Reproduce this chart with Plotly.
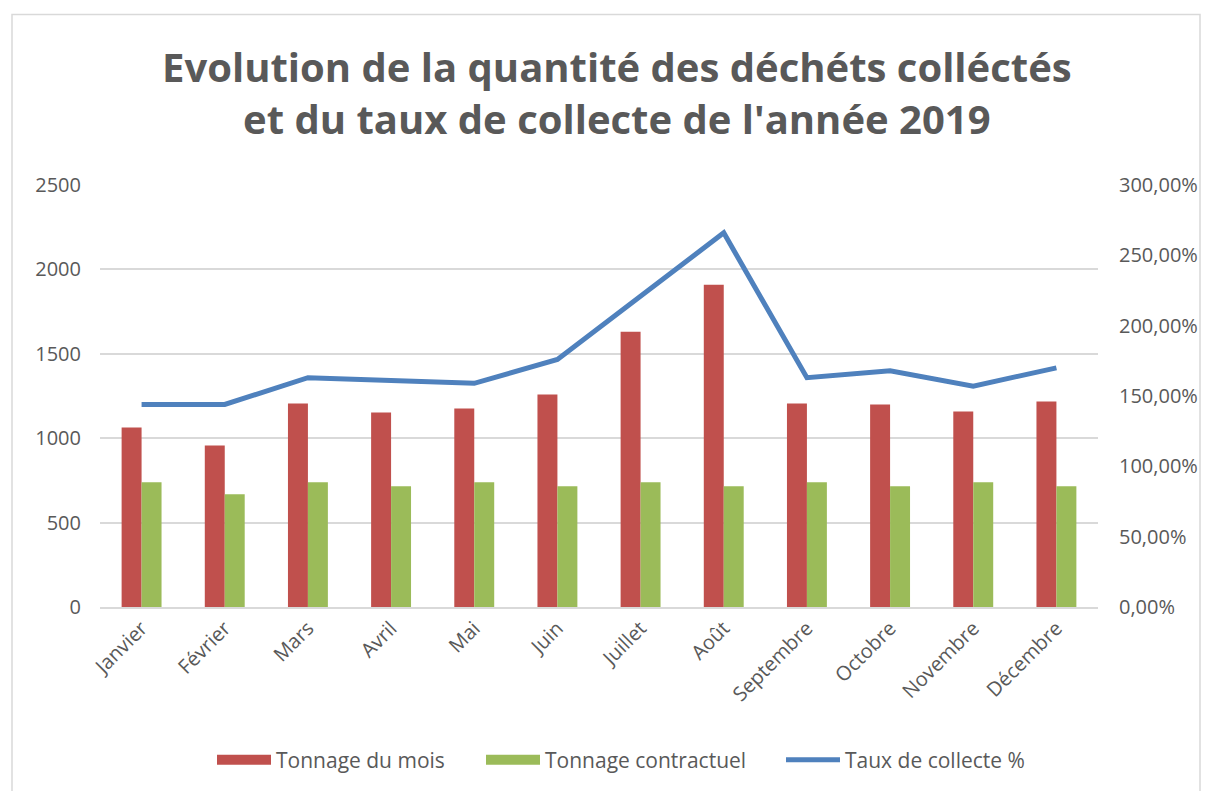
import plotly.graph_objects as go

mois = ["Janvier", "Février", "Mars", "Avril", "Mai", "Juin", "Juillet", "Août",
        "Septembre", "Octobre", "Novembre", "Décembre"]
tonnage_mois = [1064, 957, 1206, 1152, 1176, 1259, 1631, 1909, 1206, 1200, 1158, 1217]
tonnage_contractuel = [739, 668, 739, 715, 739, 715, 739, 715, 739, 715, 739, 715]
taux_collecte = [1.44, 1.44, 1.63, 1.61, 1.59, 1.76, 2.21, 2.66, 1.63, 1.68, 1.57, 1.70]
left_ticks = [0, 500, 1000, 1500, 2000, 2500]
right_ticks = [0, 0.5, 1.0, 1.5, 2.0, 2.5, 3.0]
title_text = "Evolution de la quantité des déchéts colléctés<br>et du taux de collecte de l'année 2019"

GRAY = "#595959"
RED, GREEN, BLUE = "#C0504D", "#9BBB59", "#4F81BD"
FONT = "Open Sans"
OFF = 8  # page body margin

fig = go.Figure()
fig.add_trace(go.Bar(x=mois, y=tonnage_mois, name="Tonnage du mois",
                     marker=dict(color=RED, line=dict(width=0)), showlegend=False))
fig.add_trace(go.Bar(x=mois, y=tonnage_contractuel, name="Tonnage contractuel",
                     marker=dict(color=GREEN, line=dict(width=0)), showlegend=False))
fig.add_trace(go.Scatter(x=mois, y=taux_collecte, name="Taux de collecte %",
                         mode="lines", yaxis="y2", showlegend=False,
                         line=dict(color=BLUE, width=5)))
# legend entries (wide rectangular swatches like the original)
legend_items = [("Tonnage du mois", RED, 14, "legend", 212),
                ("Tonnage contractuel", GREEN, 14, "legend2", 481),
                ("Taux de collecte %", BLUE, 5, "legend3", 781)]
for name, color, width, lg, _ in legend_items:
    fig.add_trace(go.Scatter(x=[None], y=[None], name=name, mode="lines",
                             legend=lg, line=dict(color=color, width=width)))

W, H = 1210 - OFF, 791 - OFF
PL, PR, PT, PB = 100, 1098, 185, 608
l, r, t, b = PL - OFF, W - (PR - OFF), PT - OFF, H - (PB - OFF)
pw, ph = W - l - r, H - t - b

def px(x):
    return (x - OFF - l) / pw

def py(y):
    return (H - b - (y - OFF)) / ph

legend_cfg = {}
for name, color, width, lg, xs in legend_items:
    legend_cfg[lg] = dict(orientation="h", x=px(xs), xanchor="left",
                          y=py(760), yanchor="middle",
                          font=dict(size=21, color=GRAY), itemwidth=54,
                          bgcolor="rgba(0,0,0,0)")

fig.update_layout(
    width=W, height=H,
    margin=dict(l=l, r=r, t=t, b=b),
    paper_bgcolor="white", plot_bgcolor="white",
    separators=", ",
    font=dict(family=FONT, color=GRAY, size=20),
    barmode="group", bargap=0.52, bargroupgap=0,
    xaxis=dict(tickangle=-45, showgrid=False, showline=True, linecolor="#D9D9D9",
               linewidth=1.5, ticks="", tickfont=dict(size=20, color=GRAY)),
    yaxis=dict(range=[0, 2500], tickvals=left_ticks, tickformat="d",
               showgrid=True, gridcolor="#D9D9D9", gridwidth=1.5, zeroline=False,
               ticks="", ticklabelstandoff=18, tickfont=dict(size=20, color=GRAY)),
    yaxis2=dict(range=[0, 3.0], tickvals=right_ticks, tickformat=".2%",
                overlaying="y", side="right", showgrid=False, zeroline=False,
                ticks="", ticklabelstandoff=20, tickfont=dict(size=20, color=GRAY)),
    annotations=[dict(text=title_text, xref="paper", yref="paper",
                      x=px(617), y=py(92.5), xanchor="center", yanchor="middle",
                      showarrow=False,
                      font=dict(family=FONT, size=40, color=GRAY, weight="bold"))],
    shapes=[dict(type="rect", xref="paper", yref="paper",
                 x0=px(12), x1=px(1200), y0=py(795), y1=py(14),
                 line=dict(color="#D9D9D9", width=1.5), fillcolor="rgba(0,0,0,0)",
                 layer="below")],
    **legend_cfg,
)

fig.write_html("out.html")
